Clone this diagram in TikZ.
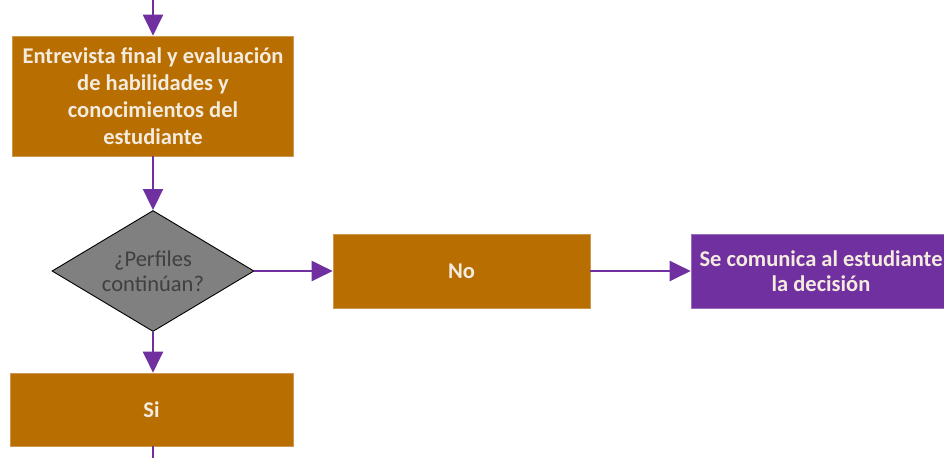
\documentclass[tikz,border=0pt]{standalone}
\usepackage{fontspec}
\setmainfont{Carlito}
\usetikzlibrary{arrows.meta,shapes.geometric}
\definecolor{flowpurple}{HTML}{7030A0}
\definecolor{floworange}{HTML}{B86E00}
\definecolor{flowgray}{HTML}{808080}
\definecolor{lighttext}{HTML}{F4EBDF}
\tikzset{
  process/.style={rectangle, fill=floworange, draw=floworange!70!white, line width=0.6pt,
    text=lighttext, font=\fontsize{22.5}{27}\selectfont\bfseries, align=center,
    inner sep=0pt},
  notice/.style={rectangle, fill=flowpurple, draw=flowpurple!70!white, line width=0.6pt,
    text=lighttext, font=\fontsize{22.5}{25}\selectfont\bfseries, align=center,
    inner sep=0pt},
  decision/.style={diamond, fill=flowgray, draw=black, line width=0.9pt,
    text=black!75, font=\fontsize{22.5}{25}\selectfont, align=center,
    inner sep=0pt, minimum width=202pt, minimum height=121pt, aspect=1.67},
  flow/.style={draw=flowpurple, line width=2pt,
    -{Triangle[length=21pt,width=20pt]}},
}
\begin{document}
\begin{tikzpicture}[x=1pt,y=-1pt]
  \useasboundingbox (0,0) rectangle (944,458);
  \fill[white] (0,0) rectangle (944,458);

  \coordinate (in) at (153,0);
  \node[process, minimum width=281pt, minimum height=120pt] (interview) at (153,96)
    {Entrevista final y evaluación\\de habilidades y\\conocimientos del\\estudiante};
  \node[decision] (check) at (153,271) {¿Perfiles\\continúan?};
  \node[process, minimum width=257pt, minimum height=74pt] (no) at (461.5,271) {No};
  \node[notice, minimum width=260pt, minimum height=74pt] (inform) at (821,271)
    {Se comunica al estudiante\\la decisión};
  \node[process, minimum width=283pt, minimum height=73pt] (yes) at (151.5,409.5) {Si};
  \coordinate (out) at (153,458);

  \draw[flow] (in) -- (interview.north);
  \draw[flow] (interview.south) -- (check.north);
  \draw[flow] (check.east) -- (no.west);
  \draw[flow] (no.east) -- (inform.west);
  \draw[flow] (check.south) -- (check.south |- yes.north);
  \draw[draw=flowpurple, line width=2pt] (yes.south -| out) -- (out);
\end{tikzpicture}
\end{document}
